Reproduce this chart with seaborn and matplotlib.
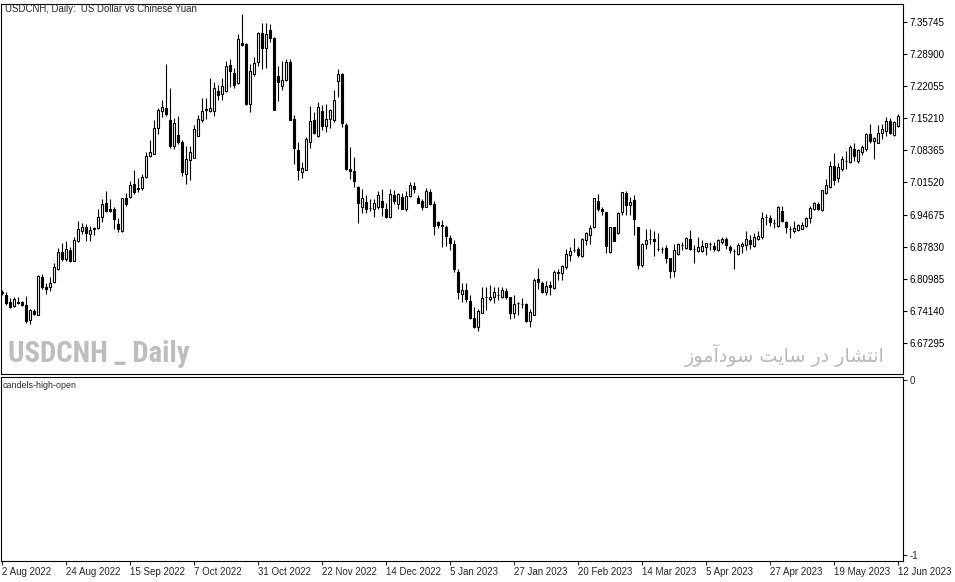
import matplotlib
matplotlib.use("Agg")
import matplotlib.pyplot as plt
from matplotlib import font_manager
import numpy as np
import pandas as pd
import seaborn as sns

sns.set_style("white")
plt.rcParams["font.family"] = ["Liberation Sans", "DejaVu Sans"]

# Daily USDCNH bars, 2 Aug 2022 .. 12 Jun 2023 (business days)
dates = pd.bdate_range("2022-08-02", periods=225)

opens = [
    6.7810, 6.7746, 6.7603, 6.7518, 6.7610, 6.7603, 6.7547, 6.7219, 6.7419, 6.7333,
    6.8144, 6.7930, 6.7916, 6.8030, 6.8300, 6.8670, 6.8528, 6.8713, 6.8485, 6.8897,
    6.9125, 6.9210, 6.9054, 6.9153, 6.9182, 6.9409, 6.9708, 6.9594, 6.9580, 6.9274,
    6.9117, 6.9829, 6.9850, 7.0112, 7.0041, 7.0026, 7.0268, 7.0709, 7.0766, 7.1306,
    7.1676, 7.1733, 7.1491, 7.0922, 7.1164, 7.1022, 7.0325, 7.0638, 7.0681, 7.1150,
    7.1477, 7.1719, 7.1676, 7.1676, 7.2103, 7.2032, 7.2103, 7.2657, 7.2487, 7.2273,
    7.3126, 7.3098, 7.1818, 7.2472, 7.2728, 7.3340, 7.3013, 7.3411, 7.3240, 7.2430,
    7.2216, 7.2330, 7.2714, 7.1505, 7.0837, 7.0368, 7.0425, 7.1008, 7.1491, 7.1136,
    7.1676, 7.1349, 7.1505, 7.1477, 7.2309, 7.2465, 7.1370, 7.0446, 7.0389, 7.0062,
    6.9636, 6.9735, 6.9610, 6.9593, 6.9636, 6.9749, 6.9593, 6.9422, 6.9877, 6.9692,
    6.9835, 6.9579, 6.9863, 7.0076, 6.9820, 6.9764, 6.9636, 6.9948, 6.9692, 6.9309,
    6.9240, 6.9196, 6.8969, 6.8841, 6.8243, 6.7774, 6.7859, 6.7618, 6.7262, 6.7063,
    6.7376, 6.7720, 6.7660, 6.7717, 6.7748, 6.7703, 6.7831, 6.7717, 6.7362, 6.7577,
    6.7561, 6.7561, 6.7191, 6.7333, 6.8101, 6.8002, 6.7817, 6.7973, 6.7902, 6.8243,
    6.8229, 6.8357, 6.8599, 6.8715, 6.8727, 6.8585, 6.8926, 6.9040, 6.9196, 6.9751,
    6.9580, 6.9523, 6.8670, 6.9196, 6.9068, 6.9523, 6.9921, 6.9665, 6.9779, 6.9196,
    6.8386, 6.8841, 6.8942, 6.8940, 6.8729, 6.8743, 6.8755, 6.8542, 6.8257, 6.8627,
    6.8814, 6.8755, 6.8940, 6.8743, 6.8684, 6.8698, 6.8783, 6.8842, 6.8798, 6.8712,
    6.8883, 6.8940, 6.8783, 6.8700, 6.8627, 6.8798, 6.8812, 6.8925, 6.8798, 6.8954,
    6.8997, 6.9411, 6.9395, 6.9283, 6.9223, 6.9536, 6.9309, 6.9154, 6.9124, 6.9138,
    6.9167, 6.9223, 6.9394, 6.9579, 6.9693, 6.9565, 6.9934, 7.0048, 7.0503, 7.0247,
    7.0432, 7.0619, 7.0589, 7.0873, 7.0603, 7.0802, 7.0859, 7.1186, 7.1029, 7.1001,
    7.1200, 7.1257, 7.1470, 7.1157, 7.1356,
]
highs = [
    6.7860, 6.7817, 6.7689, 6.7703, 6.7717, 6.7632, 6.7731, 6.7461, 6.7450, 6.8172,
    6.8201, 6.8016, 6.8144, 6.8442, 6.8755, 6.8869, 6.8897, 6.8769, 6.8997, 6.9324,
    6.9281, 6.9267, 6.9224, 6.9210, 6.9580, 6.9808, 6.9964, 6.9793, 6.9637, 6.9402,
    6.9829, 6.9928, 7.0184, 7.0425, 7.0254, 7.0339, 7.0809, 7.1050, 7.1491, 7.1733,
    7.1904, 7.2686, 7.2174, 7.1520, 7.1562, 7.1050, 7.0922, 7.0922, 7.1377, 7.1591,
    7.1960, 7.1946, 7.2387, 7.2287, 7.2231, 7.2387, 7.2743, 7.2785, 7.2600, 7.3326,
    7.3738, 7.3126, 7.2671, 7.2828, 7.3368, 7.3553, 7.3553, 7.3525, 7.3260, 7.2629,
    7.2743, 7.2785, 7.2785, 7.1591, 7.1022, 7.0595, 7.1121, 7.1776, 7.1662, 7.1861,
    7.1804, 7.1832, 7.1719, 7.2131, 7.2565, 7.2480, 7.1413, 7.0901, 7.0702, 7.0070,
    7.0020, 6.9892, 6.9792, 6.9792, 6.9977, 7.0005, 6.9721, 7.0020, 6.9991, 6.9920,
    6.9920, 6.9977, 7.0162, 7.0162, 6.9892, 6.9792, 7.0034, 7.0005, 6.9764, 6.9323,
    6.9360, 6.9239, 6.9025, 6.8926, 6.8314, 6.8002, 6.8002, 6.7746, 6.7504, 6.7461,
    6.7916, 6.7930, 6.7959, 6.7930, 6.7916, 6.7916, 6.7902, 6.7717, 6.7746, 6.7603,
    6.7689, 6.7589, 6.7447, 6.8115, 6.8329, 6.8044, 6.8044, 6.8044, 6.8286, 6.8300,
    6.8400, 6.8727, 6.8769, 6.8969, 6.8784, 6.8969, 6.9097, 6.9239, 6.9830, 6.9907,
    6.9623, 6.9530, 6.9210, 6.9210, 6.9523, 6.9955, 6.9978, 6.9836, 6.9879, 6.9210,
    6.8855, 6.9153, 6.9168, 6.9125, 6.9082, 6.8784, 6.8812, 6.8550, 6.8840, 6.8854,
    6.8883, 6.8982, 6.9139, 6.8826, 6.8997, 6.8925, 6.8869, 6.8883, 6.8883, 6.8954,
    6.8982, 6.8982, 6.8826, 6.8726, 6.8869, 6.8883, 6.9110, 6.9025, 6.9068, 6.9125,
    6.9523, 6.9480, 6.9466, 6.9366, 6.9650, 6.9650, 6.9337, 6.9223, 6.9323, 6.9266,
    6.9309, 6.9422, 6.9650, 6.9735, 6.9735, 7.0000, 7.0233, 7.0617, 7.0773, 7.0574,
    7.0717, 7.0830, 7.0958, 7.1001, 7.0859, 7.0944, 7.1200, 7.1399, 7.1115, 7.1371,
    7.1399, 7.1541, 7.1527, 7.1456, 7.1612,
]
lows = [
    6.7760, 6.7547, 6.7475, 6.7490, 6.7561, 6.7518, 6.7163, 6.7134, 6.7333, 6.7330,
    6.7888, 6.7774, 6.7845, 6.8016, 6.8295, 6.8485, 6.8485, 6.8457, 6.8471, 6.8883,
    6.9054, 6.8912, 6.8897, 6.9025, 6.9153, 6.9310, 6.9523, 6.9523, 6.9168, 6.9103,
    6.9103, 6.9658, 6.9830, 6.9899, 6.9941, 6.9984, 7.0254, 7.0695, 7.0752, 7.1193,
    7.1548, 7.1562, 7.0880, 7.0865, 7.0979, 7.0297, 7.0126, 7.0211, 7.0666, 7.1136,
    7.1448, 7.1505, 7.1648, 7.1576, 7.1904, 7.1918, 7.2074, 7.2188, 7.2174, 7.2245,
    7.3055, 7.1804, 7.1648, 7.2430, 7.2643, 7.2572, 7.2600, 7.3155, 7.1690, 7.1889,
    7.2131, 7.2316, 7.1477, 7.0553, 7.0197, 7.0240, 7.0410, 7.0880, 7.1193, 7.1121,
    7.1264, 7.1235, 7.1306, 7.1448, 7.1982, 7.1328, 7.0418, 7.0233, 7.0048, 6.9294,
    6.9493, 6.9508, 6.9550, 6.9408, 6.9579, 6.9437, 6.9394, 6.9394, 6.9692, 6.9593,
    6.9579, 6.9550, 6.9848, 6.9920, 6.9707, 6.9564, 6.9621, 6.9678, 6.9038, 6.9181,
    6.8784, 6.8798, 6.8713, 6.8243, 6.7660, 6.7603, 6.7603, 6.7248, 6.7050, 6.6978,
    6.7362, 6.7433, 6.7618, 6.7589, 6.7646, 6.7689, 6.7660, 6.7248, 6.7262, 6.7333,
    6.7475, 6.7177, 6.7063, 6.7333, 6.7888, 6.7788, 6.7760, 6.7746, 6.7888, 6.8073,
    6.8073, 6.8314, 6.8485, 6.8670, 6.8570, 6.8556, 6.8826, 6.8841, 6.9182, 6.9552,
    6.9452, 6.8641, 6.8656, 6.8897, 6.9060, 6.9466, 6.9466, 6.9452, 6.9040, 6.8314,
    6.8357, 6.8727, 6.8841, 6.8585, 6.8698, 6.8641, 6.8428, 6.8115, 6.8129, 6.8613,
    6.8712, 6.8726, 6.8712, 6.8442, 6.8670, 6.8670, 6.8613, 6.8712, 6.8684, 6.8698,
    6.8840, 6.8741, 6.8641, 6.8300, 6.8613, 6.8641, 6.8712, 6.8741, 6.8783, 6.8925,
    6.8940, 6.9253, 6.9224, 6.9181, 6.9195, 6.9309, 6.9067, 6.8967, 6.9081, 6.9124,
    6.9152, 6.9209, 6.9295, 6.9565, 6.9565, 6.9550, 6.9906, 7.0034, 7.0105, 7.0162,
    7.0404, 7.0446, 7.0574, 7.0603, 7.0560, 7.0745, 7.0830, 7.1001, 7.0660, 7.0987,
    7.1072, 7.1143, 7.1186, 7.1143, 7.1342,
]
closes = [
    6.7790, 6.7575, 6.7504, 6.7660, 6.7590, 6.7532, 6.7205, 6.7433, 6.7347, 6.8158,
    6.7916, 6.7888, 6.8016, 6.8343, 6.8670, 6.8528, 6.8741, 6.8471, 6.8926, 6.9153,
    6.9210, 6.9068, 6.9139, 6.9182, 6.9409, 6.9694, 6.9552, 6.9552, 6.9367, 6.9160,
    6.9829, 6.9686, 7.0098, 6.9955, 7.0012, 7.0268, 7.0709, 7.0794, 7.1306, 7.1690,
    7.1761, 7.1605, 7.0937, 7.1420, 7.1008, 7.0368, 7.0652, 7.0809, 7.1292, 7.1505,
    7.1676, 7.1704, 7.1747, 7.2159, 7.2017, 7.2216, 7.2629, 7.2529, 7.2231, 7.3212,
    7.3084, 7.1832, 7.2529, 7.2700, 7.3340, 7.3013, 7.3326, 7.3226, 7.1704, 7.2302,
    7.2330, 7.2714, 7.1491, 7.0880, 7.0410, 7.0453, 7.1079, 7.1463, 7.1207, 7.1761,
    7.1349, 7.1505, 7.1690, 7.1904, 7.2465, 7.1427, 7.0432, 7.0389, 7.0176, 6.9721,
    6.9820, 6.9593, 6.9605, 6.9707, 6.9877, 6.9636, 6.9422, 6.9906, 6.9764, 6.9906,
    6.9593, 6.9863, 7.0091, 7.0020, 6.9721, 6.9636, 6.9963, 6.9692, 6.9223, 6.9237,
    6.9232, 6.9011, 6.8855, 6.8300, 6.7817, 6.7859, 6.7660, 6.7262, 6.7063, 6.7404,
    6.7689, 6.7715, 6.7717, 6.7817, 6.7744, 6.7859, 6.7703, 6.7362, 6.7561, 6.7573,
    6.7558, 6.7205, 6.7390, 6.8073, 6.8030, 6.7817, 6.7945, 6.7930, 6.8243, 6.8229,
    6.8371, 6.8627, 6.8698, 6.8711, 6.8599, 6.8940, 6.9082, 6.9182, 6.9822, 6.9580,
    6.9537, 6.8798, 6.9196, 6.8912, 6.9509, 6.9950, 6.9680, 6.9736, 6.9381, 6.8386,
    6.8841, 6.8926, 6.8938, 6.8897, 6.8725, 6.8739, 6.8542, 6.8257, 6.8712, 6.8840,
    6.8810, 6.8968, 6.8726, 6.8739, 6.8769, 6.8798, 6.8854, 6.8838, 6.8726, 6.8925,
    6.8940, 6.8812, 6.8712, 6.8696, 6.8812, 6.8840, 6.8940, 6.8840, 6.8982, 6.9011,
    6.9395, 6.9407, 6.9309, 6.9279, 6.9636, 6.9337, 6.9195, 6.9150, 6.9181, 6.9238,
    6.9252, 6.9394, 6.9607, 6.9707, 6.9593, 6.9991, 7.0091, 7.0503, 7.0205, 7.0489,
    7.0645, 7.0615, 7.0901, 7.0717, 7.0844, 7.0901, 7.1186, 7.1029, 7.1100, 7.1200,
    7.1285, 7.1470, 7.1200, 7.1442, 7.1570,
]

price_ticks = [7.35745, 7.28900, 7.22055, 7.15210, 7.08365, 7.01520,
               6.94675, 6.87830, 6.80985, 6.74140, 6.67295]
sub_ticks = [0, -1]
date_tick_step = 16

title = "USDCNH, Daily:  US Dollar vs Chinese Yuan"
sub_title = "candels-high-open"
watermark = "USDCNH _ Daily"
# "انتشار در سایت سودآموز" written with Arabic presentation forms (logical order)
persian_forms = ("\uFE8D\uFEE7\uFE98\uFEB8\uFE8E\uFEAD \uFEA9\uFEAD "
                 "\uFEB3\uFE8E\uFBFE\uFE96 \uFEB3\uFEEE\uFEA9\uFE81\uFEE3\uFEEE\uFEAF")
persian_visual = persian_forms[::-1]

df = pd.DataFrame({"date": dates, "open": opens, "high": highs, "low": lows, "close": closes})
df["bar"] = np.arange(len(df))
df["up"] = df["close"] >= df["open"]
df["body_lo"] = df[["open", "close"]].min(axis=1)
df["body_h"] = (df["close"] - df["open"]).abs().clip(lower=0.0003)

W, H = 955, 582
fig = plt.figure(figsize=(W / 100, H / 100), dpi=100)


def box(x0, y0, x1, y1):
    return [x0 / W, 1 - y1 / H, (x1 - x0) / W, (y1 - y0) / H]


ax = fig.add_axes(box(1, 4, 903, 374))
ax2 = fig.add_axes(box(1, 377, 903, 561))

# candles
ax.vlines(df["bar"], df["low"], df["high"], color="black", linewidth=0.8, zorder=2)
ax.bar(df["bar"], df["body_h"], bottom=df["body_lo"], width=0.5,
       color=np.where(df["up"], "white", "black"), edgecolor="black",
       linewidth=0.8, zorder=3)

for a in (ax, ax2):
    a.set_xlim(-0.25, 225.25)
    for s in a.spines.values():
        s.set_color("black")
        s.set_linewidth(0.8)

ax.set_ylim(6.6068, 7.3958)
ax.set_xticks([])
ax.yaxis.tick_right()
ax.set_yticks(price_ticks)
ax.set_yticklabels([f"{v:.5f}" for v in price_ticks])
ax.tick_params(axis="y", direction="out", length=3, width=0.8, pad=2,
               labelsize=7, colors="black", right=True)

ax2.set_ylim(-1.034, 0.017)
ax2.yaxis.tick_right()
ax2.set_yticks(sub_ticks)
ax2.set_yticklabels([str(v) for v in sub_ticks])
ax2.tick_params(axis="y", direction="out", length=3, width=0.8, pad=2,
                labelsize=7, right=True)
pos = list(range(0, len(df), date_tick_step))
ax2.set_xticks(pos)
ax2.set_xticklabels([f"{d.day} {d:%b %Y}" for d in df["date"].iloc[pos]])
ax2.tick_params(axis="x", direction="out", length=3, width=0.8, pad=1,
                labelsize=7, bottom=True)
for lbl in ax2.get_xticklabels():
    lbl.set_horizontalalignment("left")

fig.text(5 / W, 1 - 9 / H, title, fontsize=6.9, va="center", ha="left")
fig.text(3 / W, 1 - 385 / H, sub_title, fontsize=6.4, va="center", ha="left")

# narrowest bold face available for the watermark
names = {f.name for f in font_manager.fontManager.ttflist}
wm_kw = {"family": "DejaVu Sans"}
for cand in ["Liberation Sans Narrow", "Roboto Condensed", "Open Sans Condensed"]:
    if cand in names:
        wm_kw = {"family": cand}
        break
else:
    if any(f.name == "DejaVu Sans" and "condensed" in str(f.stretch).lower()
           for f in font_manager.fontManager.ttflist):
        wm_kw = {"family": "DejaVu Sans", "fontstretch": "condensed"}

renderer = fig.canvas.get_renderer()


def fit_text(x, y, s, width_px, size, **kw):
    t = fig.text(x / W, 1 - y / H, s, fontsize=size, **kw)
    w = t.get_window_extent(renderer).width
    t.set_fontsize(size * width_px / w)
    return t


fit_text(8, 354, watermark, 182, 20, fontweight="bold", color="#bdbdbd",
         va="center", ha="left", **wm_kw)
fit_text(885, 355, persian_visual, 200, 13, family=["DejaVu Sans"],
         color="#b8b8b8", va="center", ha="right")

fig.savefig("out.png", dpi=100)
